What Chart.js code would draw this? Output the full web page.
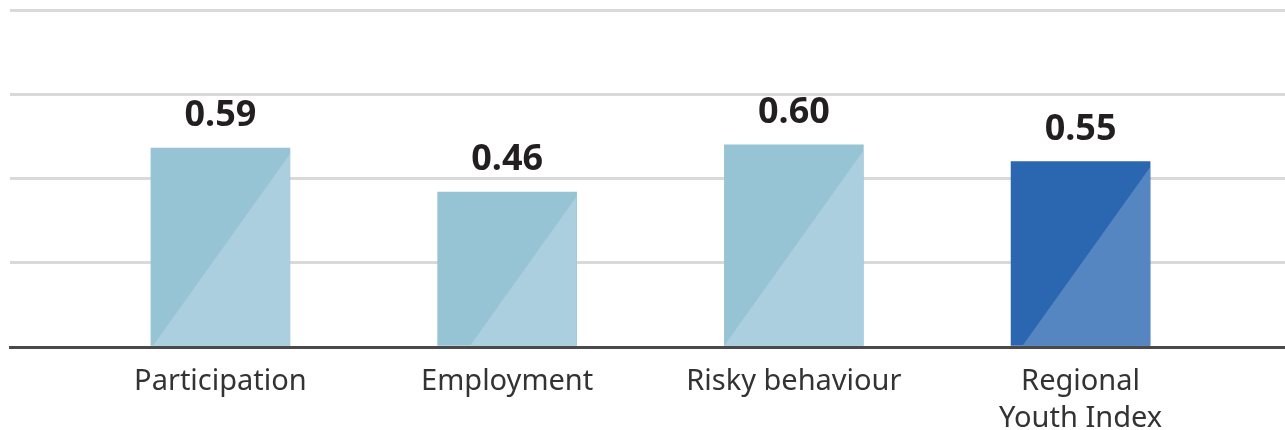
<!DOCTYPE html>
<html>
<head>
<meta charset="utf-8">
<script src="https://cdn.jsdelivr.net/npm/chart.js@4"></script>
<style>
  html, body { margin: 0; padding: 0; background: #fff; }
  #wrap { width: 1285px; height: 430px; position: relative; }
</style>
</head>
<body>
<div id="wrap"><canvas id="youth-index-chart"></canvas></div>
<script>
const categories = ['Participation', 'Employment', 'Risky behaviour', ['Regional', 'Youth Index']]
const scores = [0.59, 0.46, 0.60, 0.55]
const yTicks = [0, 0.25, 0.5, 0.75, 1]

const baseColors = ['#97c4d5', '#97c4d5', '#97c4d5', '#2b67b1']
const shadeColors = ['#accfdf', '#accfdf', '#accfdf', '#5586c1']

const FONT = '"Noto Sans", "Open Sans", sans-serif'

// lighter triangle in the lower right corner of every bar + value on top
const barDecor = {
  id: 'barDecor',
  afterDatasetsDraw (chart) {
    const ctx = chart.ctx
    const meta = chart.getDatasetMeta(0)
    meta.data.forEach((bar, i) => {
      const { x, y, base, width } = bar.getProps(['x', 'y', 'base', 'width'], true)
      const right = x + width / 2
      const triH = (base - y) * 0.97
      const triW = Math.min(width, triH / 1.4)
      ctx.save()
      ctx.fillStyle = shadeColors[i]
      ctx.beginPath()
      ctx.moveTo(right - triW, base)
      ctx.lineTo(right, base)
      ctx.lineTo(right, base - triH)
      ctx.closePath()
      ctx.fill()

      ctx.fillStyle = '#231f20'
      ctx.font = 'bold 36px ' + FONT
      ctx.textAlign = 'center'
      ctx.textBaseline = 'alphabetic'
      ctx.fillText(scores[i].toFixed(2), x, y - 22)
      ctx.restore()
    })
  }
}

const ctx = document.getElementById('youth-index-chart')

new Chart(ctx, {
  type: 'bar',
  data: {
    datasets: [{
      data: scores.map((v, i) => ({ x: i, y: v })),
      backgroundColor: baseColors,
      borderWidth: 0,
      barThickness: 139
    }]
  },
  options: {
    responsive: true,
    maintainAspectRatio: false,
    animation: false,
    layout: { padding: { top: 10, left: 10, right: 0, bottom: 0 } },
    plugins: {
      legend: { display: false },
      tooltip: { enabled: false }
    },
    scales: {
      x: {
        type: 'linear',
        offset: false,
        min: -0.734,
        max: 3.713,
        afterBuildTicks: (axis) => {
          axis.ticks = categories.map((c, i) => ({ value: i }))
        },
        afterFit: (axis) => { axis.height = 83 },
        ticks: {
          callback: (value) => categories[value],
          color: '#333333',
          font: { family: FONT, size: 29, lineHeight: 1.27 },
          padding: 16,
          maxRotation: 0,
          autoSkip: false
        },
        grid: { display: false, drawTicks: false },
        border: { display: true, color: '#4a4a4a', width: 3, z: 1 }
      },
      y: {
        min: 0,
        max: 1,
        afterBuildTicks: (axis) => {
          axis.ticks = yTicks.map(v => ({ value: v }))
        },
        ticks: { display: false },
        grid: { color: '#d9d9d9', lineWidth: 3, drawTicks: false },
        border: { display: false }
      }
    }
  },
  plugins: [barDecor]
})
</script>
</body>
</html>
